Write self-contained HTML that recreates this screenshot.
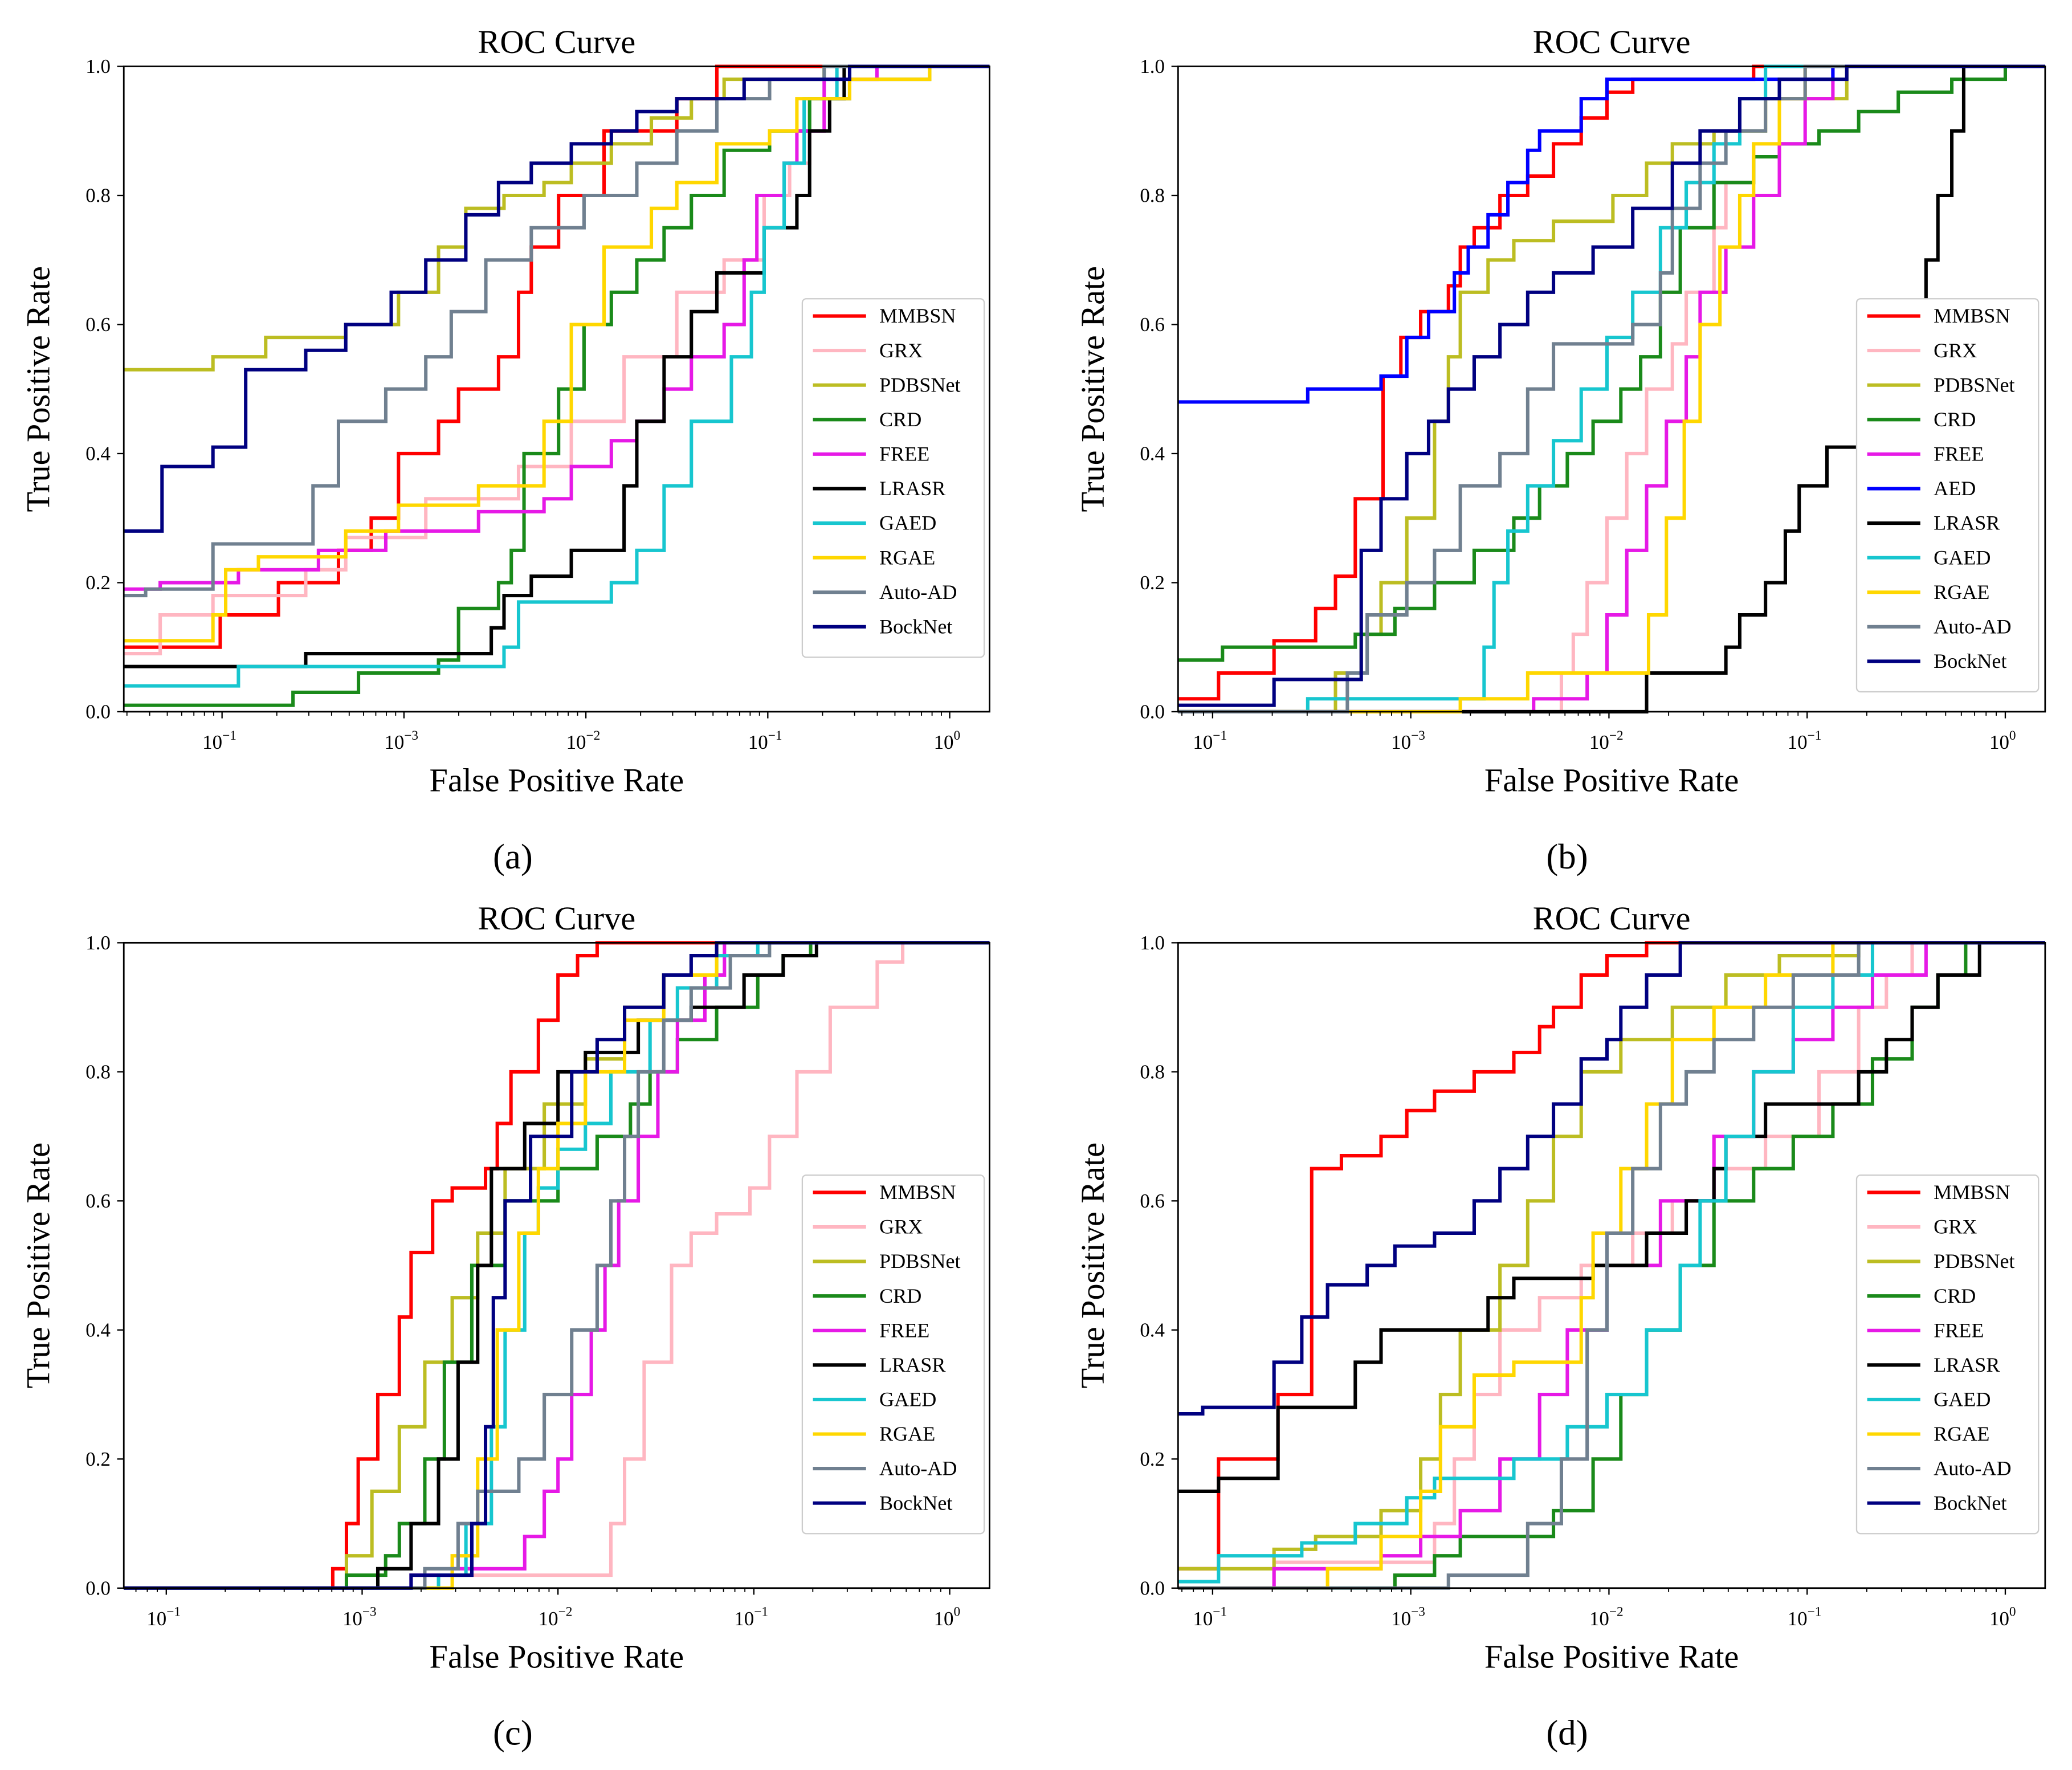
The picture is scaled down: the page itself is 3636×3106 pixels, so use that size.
<!DOCTYPE html>
<html><head><meta charset="utf-8"><style>
html,body{margin:0;padding:0;background:#fff;}
svg{display:block;}
text{font-family:"Liberation Serif",serif;fill:#000;}
</style></head><body>
<svg id="fig" width="3636" height="3106" viewBox="0 0 1560 1333" xmlns="http://www.w3.org/2000/svg"></svg>
<script>
// ---------- data: [log10(FPR), TPR] step points ----------
const names = ["MMBSN","GRX","PDBSNet","CRD","FREE","AED","LRASR","GAED","RGAE","Auto-AD","BockNet"];
const colors = {MMBSN:"#ff0000",GRX:"#ffb6c1",PDBSNet:"#bcbd22",CRD:"#1a8a1a",FREE:"#e619e6",AED:"#0000ff",LRASR:"#000000",GAED:"#17c6cf",RGAE:"#ffd700","Auto-AD":"#708090",BockNet:"#000080"};
const tickLabels = ["\u22121","\u22123","\u22122","\u22121","0"];
const yTicks = [0,0.2,0.4,0.6,0.8,1.0];

const a_MMBSN=[[-9,0.1],[-4.01,0.15],[-3.69,0.2],[-3.36,0.25],[-3.18,0.3],[-3.03,0.4],[-2.81,0.45],[-2.70,0.5],[-2.48,0.55],[-2.37,0.65],[-2.30,0.72],[-2.15,0.8],[-1.90,0.9],[-1.50,0.95],[-1.28,1.0]];
const a_GRX=[[-9,0.09],[-4.34,0.15],[-4.05,0.18],[-3.54,0.22],[-3.32,0.27],[-2.88,0.33],[-2.37,0.38],[-2.08,0.45],[-1.79,0.55],[-1.50,0.65],[-1.24,0.7],[-1.02,0.8],[-0.88,0.85],[-0.77,0.95],[-0.55,1.0]];
const a_PDBSNet=[[-9,0.53],[-4.05,0.55],[-3.76,0.58],[-3.32,0.6],[-3.03,0.65],[-2.81,0.72],[-2.66,0.78],[-2.45,0.8],[-2.23,0.82],[-2.08,0.85],[-1.86,0.88],[-1.64,0.92],[-1.42,0.95],[-1.24,0.98],[-0.69,1.0]];
const a_CRD=[[-9,0.01],[-3.61,0.03],[-3.25,0.06],[-2.81,0.08],[-2.70,0.16],[-2.48,0.2],[-2.41,0.25],[-2.34,0.4],[-2.15,0.5],[-2.01,0.6],[-1.86,0.65],[-1.72,0.7],[-1.57,0.75],[-1.42,0.8],[-1.24,0.87],[-0.99,0.9],[-0.77,0.95],[-0.55,0.98],[-0.11,1.0]];
const a_FREE=[[-9,0.19],[-4.34,0.2],[-3.91,0.22],[-3.47,0.25],[-3.10,0.28],[-2.59,0.31],[-2.23,0.33],[-2.08,0.38],[-1.86,0.42],[-1.72,0.45],[-1.57,0.5],[-1.42,0.55],[-1.24,0.6],[-1.13,0.7],[-1.06,0.8],[-0.91,0.85],[-0.84,0.9],[-0.69,0.98],[-0.4,1.0]];
const a_LRASR=[[-9,0.07],[-3.54,0.09],[-2.52,0.13],[-2.45,0.18],[-2.30,0.21],[-2.08,0.25],[-1.79,0.35],[-1.72,0.45],[-1.57,0.55],[-1.42,0.62],[-1.28,0.68],[-1.02,0.75],[-0.84,0.8],[-0.77,0.9],[-0.66,0.95],[-0.58,1.0]];
const a_GAED=[[-9,0.04],[-3.91,0.07],[-2.45,0.1],[-2.37,0.17],[-1.86,0.2],[-1.72,0.25],[-1.57,0.35],[-1.42,0.45],[-1.20,0.55],[-1.09,0.65],[-1.02,0.75],[-0.91,0.85],[-0.80,0.95],[-0.62,1.0]];
const a_RGAE=[[-9,0.11],[-4.05,0.15],[-3.98,0.22],[-3.80,0.24],[-3.32,0.28],[-3.03,0.32],[-2.59,0.35],[-2.23,0.45],[-2.08,0.6],[-1.90,0.72],[-1.64,0.78],[-1.50,0.82],[-1.28,0.88],[-0.99,0.9],[-0.84,0.95],[-0.55,0.98],[-0.11,1.0]];
const a_AutoAD=[[-9,0.18],[-4.42,0.19],[-4.05,0.26],[-3.50,0.35],[-3.36,0.45],[-3.10,0.5],[-2.88,0.55],[-2.74,0.62],[-2.55,0.7],[-2.30,0.75],[-2.01,0.8],[-1.72,0.85],[-1.50,0.9],[-1.28,0.95],[-0.99,0.98],[-0.69,1.0]];
const a_BockNet=[[-9,0.28],[-4.33,0.38],[-4.05,0.41],[-3.87,0.53],[-3.54,0.56],[-3.32,0.6],[-3.07,0.65],[-2.88,0.7],[-2.66,0.77],[-2.48,0.82],[-2.30,0.85],[-2.08,0.88],[-1.86,0.9],[-1.72,0.93],[-1.50,0.95],[-1.13,0.98],[-0.55,1.0]];

const b_MMBSN=[[-9,0.02],[-3.97,0.06],[-3.69,0.11],[-3.48,0.16],[-3.38,0.21],[-3.28,0.33],[-3.14,0.52],[-3.05,0.58],[-2.95,0.62],[-2.81,0.66],[-2.75,0.72],[-2.68,0.75],[-2.55,0.8],[-2.41,0.83],[-2.28,0.88],[-2.14,0.92],[-2.01,0.96],[-1.88,0.98],[-1.27,1.0]];
const b_GRX=[[-9,0.0],[-2.24,0.06],[-2.18,0.12],[-2.11,0.2],[-2.01,0.3],[-1.91,0.4],[-1.81,0.5],[-1.68,0.57],[-1.61,0.65],[-1.47,0.75],[-1.41,0.82],[-1.27,0.88],[-1.14,0.95],[-1.01,1.0]];
const b_PDBSNet=[[-9,0.0],[-3.38,0.06],[-3.25,0.12],[-3.15,0.2],[-3.02,0.3],[-2.88,0.45],[-2.81,0.55],[-2.75,0.65],[-2.61,0.7],[-2.48,0.73],[-2.28,0.76],[-1.98,0.8],[-1.81,0.85],[-1.68,0.88],[-1.47,0.9],[-1.21,0.95],[-0.80,1.0]];
const b_CRD=[[-9,0.08],[-3.95,0.1],[-3.28,0.12],[-3.08,0.16],[-2.88,0.2],[-2.68,0.25],[-2.48,0.3],[-2.35,0.35],[-2.21,0.4],[-2.08,0.45],[-1.94,0.5],[-1.84,0.55],[-1.74,0.65],[-1.64,0.75],[-1.47,0.82],[-1.27,0.86],[-1.14,0.88],[-0.94,0.9],[-0.74,0.93],[-0.54,0.96],[-0.27,0.98],[0,1.0]];
const b_FREE=[[-9,0.0],[-2.38,0.02],[-2.11,0.06],[-2.01,0.15],[-1.91,0.25],[-1.81,0.35],[-1.71,0.45],[-1.61,0.55],[-1.54,0.65],[-1.41,0.72],[-1.27,0.8],[-1.14,0.88],[-1.01,0.95],[-0.87,1.0]];
const b_AED=[[-9,0.48],[-3.52,0.5],[-3.15,0.52],[-3.02,0.58],[-2.91,0.62],[-2.78,0.68],[-2.71,0.72],[-2.61,0.77],[-2.51,0.82],[-2.41,0.87],[-2.35,0.9],[-2.14,0.95],[-2.01,0.98],[-0.87,1.0]];
const b_LRASR=[[-9,0.0],[-1.81,0.06],[-1.41,0.1],[-1.34,0.15],[-1.21,0.2],[-1.11,0.28],[-1.04,0.35],[-0.90,0.41],[-0.74,0.45],[-0.57,0.55],[-0.47,0.62],[-0.40,0.7],[-0.34,0.8],[-0.27,0.9],[-0.21,1.0]];
const b_GAED=[[-9,0.0],[-3.52,0.02],[-2.63,0.1],[-2.58,0.2],[-2.51,0.28],[-2.41,0.35],[-2.28,0.42],[-2.14,0.5],[-2.01,0.58],[-1.88,0.65],[-1.74,0.75],[-1.61,0.82],[-1.47,0.88],[-1.34,0.95],[-1.21,1.0]];
const b_RGAE=[[-9,0.0],[-2.75,0.02],[-2.41,0.06],[-1.80,0.15],[-1.71,0.3],[-1.62,0.45],[-1.54,0.6],[-1.44,0.72],[-1.34,0.8],[-1.27,0.88],[-1.14,0.95],[-1.01,1.0]];
const b_AutoAD=[[-9,0.0],[-3.32,0.06],[-3.22,0.15],[-3.02,0.2],[-2.88,0.25],[-2.75,0.35],[-2.55,0.4],[-2.41,0.5],[-2.28,0.57],[-1.88,0.6],[-1.74,0.68],[-1.68,0.78],[-1.54,0.85],[-1.41,0.9],[-1.21,0.95],[-1.01,1.0]];
const b_BockNet=[[-9,0.01],[-3.69,0.05],[-3.25,0.25],[-3.15,0.33],[-3.02,0.4],[-2.91,0.45],[-2.81,0.5],[-2.68,0.55],[-2.55,0.6],[-2.41,0.65],[-2.28,0.68],[-2.08,0.72],[-1.88,0.78],[-1.68,0.85],[-1.54,0.9],[-1.34,0.95],[-1.14,0.98],[-0.80,1.0]];

const c_MMBSN=[[-9,0],[-3.15,0.03],[-3.08,0.1],[-3.02,0.2],[-2.92,0.3],[-2.81,0.42],[-2.75,0.52],[-2.64,0.6],[-2.54,0.62],[-2.37,0.65],[-2.31,0.72],[-2.24,0.8],[-2.10,0.88],[-2.00,0.95],[-1.90,0.98],[-1.80,1.0]];
const c_GRX=[[-9,0],[-2.61,0.02],[-1.73,0.1],[-1.66,0.2],[-1.56,0.35],[-1.42,0.5],[-1.32,0.55],[-1.19,0.58],[-1.02,0.62],[-0.92,0.7],[-0.78,0.8],[-0.61,0.9],[-0.37,0.97],[-0.24,1.0]];
const c_PDBSNet=[[-9,0],[-3.08,0.05],[-2.95,0.15],[-2.81,0.25],[-2.68,0.35],[-2.54,0.45],[-2.41,0.55],[-2.27,0.65],[-2.07,0.75],[-1.86,0.82],[-1.66,0.9],[-1.46,0.95],[-1.19,1.0]];
const c_CRD=[[-9,0],[-3.08,0.02],[-2.88,0.05],[-2.81,0.1],[-2.68,0.2],[-2.58,0.35],[-2.44,0.5],[-2.27,0.6],[-2.00,0.65],[-1.80,0.7],[-1.63,0.75],[-1.53,0.8],[-1.39,0.85],[-1.19,0.9],[-0.98,0.95],[-0.85,0.98],[-0.71,1.0]];
const c_FREE=[[-9,0],[-2.75,0.02],[-2.54,0.03],[-2.17,0.08],[-2.07,0.15],[-2.00,0.2],[-1.93,0.3],[-1.83,0.4],[-1.76,0.5],[-1.69,0.6],[-1.59,0.7],[-1.49,0.8],[-1.39,0.88],[-1.25,0.95],[-1.15,1.0]];
const c_LRASR=[[-9,0],[-2.92,0.03],[-2.75,0.1],[-2.61,0.2],[-2.51,0.35],[-2.41,0.5],[-2.34,0.65],[-2.17,0.72],[-2.00,0.8],[-1.86,0.83],[-1.59,0.88],[-1.32,0.9],[-1.05,0.95],[-0.85,0.98],[-0.68,1.0]];
const c_GAED=[[-9,0],[-2.61,0.02],[-2.47,0.1],[-2.34,0.25],[-2.27,0.4],[-2.17,0.55],[-2.10,0.62],[-2.00,0.68],[-1.86,0.72],[-1.73,0.8],[-1.53,0.88],[-1.39,0.93],[-1.19,0.98],[-0.98,1.0]];
const c_RGAE=[[-9,0],[-2.54,0.05],[-2.41,0.2],[-2.31,0.4],[-2.20,0.55],[-2.10,0.65],[-2.00,0.72],[-1.86,0.8],[-1.66,0.88],[-1.46,0.95],[-1.19,1.0]];
const c_AutoAD=[[-9,0],[-2.68,0.03],[-2.51,0.1],[-2.41,0.15],[-2.20,0.2],[-2.07,0.3],[-1.93,0.4],[-1.80,0.5],[-1.73,0.6],[-1.66,0.7],[-1.59,0.8],[-1.46,0.88],[-1.32,0.93],[-1.12,0.98],[-0.92,1.0]];
const c_BockNet=[[-9,0],[-2.75,0.02],[-2.44,0.1],[-2.37,0.25],[-2.33,0.45],[-2.27,0.6],[-2.14,0.7],[-1.93,0.8],[-1.80,0.85],[-1.66,0.9],[-1.46,0.95],[-1.32,0.98],[-1.19,1.0]];

const d_MMBSN=[[-9,0.03],[-3.97,0.2],[-3.67,0.3],[-3.50,0.65],[-3.35,0.67],[-3.15,0.7],[-3.02,0.74],[-2.88,0.77],[-2.68,0.8],[-2.48,0.83],[-2.35,0.87],[-2.28,0.9],[-2.14,0.95],[-2.01,0.98],[-1.81,1.0]];
const d_GRX=[[-9,0.0],[-3.69,0.04],[-2.88,0.1],[-2.78,0.2],[-2.68,0.3],[-2.55,0.4],[-2.35,0.45],[-2.14,0.5],[-1.88,0.55],[-1.68,0.6],[-1.41,0.65],[-1.21,0.7],[-0.94,0.8],[-0.74,0.9],[-0.60,0.95],[-0.47,1.0]];
const d_PDBSNet=[[-9,0.03],[-3.69,0.06],[-3.48,0.08],[-3.15,0.12],[-2.95,0.2],[-2.85,0.3],[-2.75,0.4],[-2.55,0.5],[-2.41,0.6],[-2.28,0.7],[-2.14,0.8],[-1.94,0.85],[-1.68,0.9],[-1.41,0.95],[-1.14,0.98],[-0.74,1.0]];
const d_CRD=[[-9,0],[-3.08,0.02],[-2.88,0.05],[-2.75,0.08],[-2.28,0.12],[-2.08,0.2],[-1.94,0.3],[-1.81,0.4],[-1.64,0.5],[-1.47,0.6],[-1.27,0.65],[-1.07,0.7],[-0.87,0.75],[-0.67,0.82],[-0.47,0.9],[-0.34,0.95],[-0.20,1.0]];
const d_FREE=[[-9,0],[-3.69,0.03],[-3.15,0.05],[-2.95,0.08],[-2.75,0.12],[-2.55,0.2],[-2.35,0.3],[-2.21,0.4],[-2.01,0.5],[-1.74,0.6],[-1.47,0.7],[-1.27,0.8],[-1.07,0.85],[-0.87,0.9],[-0.67,0.95],[-0.40,1.0]];
const d_LRASR=[[-9,0.15],[-3.97,0.17],[-3.67,0.28],[-3.28,0.35],[-3.15,0.4],[-2.61,0.45],[-2.48,0.48],[-2.08,0.5],[-1.81,0.55],[-1.61,0.6],[-1.47,0.65],[-1.41,0.7],[-1.21,0.75],[-0.74,0.8],[-0.60,0.85],[-0.47,0.9],[-0.34,0.95],[-0.13,1.0]];
const d_GAED=[[-9,0.01],[-3.97,0.05],[-3.55,0.07],[-3.28,0.1],[-3.02,0.14],[-2.88,0.17],[-2.48,0.2],[-2.21,0.25],[-2.01,0.3],[-1.81,0.4],[-1.64,0.5],[-1.54,0.6],[-1.41,0.7],[-1.27,0.8],[-1.07,0.9],[-0.87,0.95],[-0.67,1.0]];
const d_RGAE=[[-9,0],[-3.42,0.03],[-3.15,0.08],[-2.95,0.15],[-2.85,0.25],[-2.68,0.33],[-2.48,0.35],[-2.14,0.45],[-2.08,0.55],[-1.94,0.65],[-1.81,0.75],[-1.68,0.85],[-1.47,0.9],[-1.21,0.95],[-0.87,1.0]];
const d_AutoAD=[[-9,0],[-2.81,0.02],[-2.41,0.1],[-2.24,0.2],[-2.11,0.4],[-2.01,0.55],[-1.88,0.65],[-1.74,0.75],[-1.61,0.8],[-1.47,0.85],[-1.27,0.9],[-1.07,0.95],[-0.74,1.0]];
const d_BockNet=[[-9,0.27],[-4.05,0.28],[-3.69,0.35],[-3.55,0.42],[-3.42,0.47],[-3.22,0.5],[-3.08,0.53],[-2.88,0.55],[-2.68,0.6],[-2.55,0.65],[-2.41,0.7],[-2.28,0.75],[-2.14,0.82],[-2.01,0.85],[-1.94,0.9],[-1.81,0.95],[-1.64,1.0]];

const panelA = {MMBSN:a_MMBSN,GRX:a_GRX,PDBSNet:a_PDBSNet,CRD:a_CRD,FREE:a_FREE,LRASR:a_LRASR,GAED:a_GAED,RGAE:a_RGAE,"Auto-AD":a_AutoAD,BockNet:a_BockNet};
const panelB = {MMBSN:b_MMBSN,GRX:b_GRX,PDBSNet:b_PDBSNet,CRD:b_CRD,FREE:b_FREE,AED:b_AED,LRASR:b_LRASR,GAED:b_GAED,RGAE:b_RGAE,"Auto-AD":b_AutoAD,BockNet:b_BockNet};
const panelC = {MMBSN:c_MMBSN,GRX:c_GRX,PDBSNet:c_PDBSNet,CRD:c_CRD,FREE:c_FREE,LRASR:c_LRASR,GAED:c_GAED,RGAE:c_RGAE,"Auto-AD":c_AutoAD,BockNet:c_BockNet};
const panelD = {MMBSN:d_MMBSN,GRX:d_GRX,PDBSNet:d_PDBSNet,CRD:d_CRD,FREE:d_FREE,LRASR:d_LRASR,GAED:d_GAED,RGAE:d_RGAE,"Auto-AD":d_AutoAD,BockNet:d_BockNet};

const NS="http://www.w3.org/2000/svg";
const svg=document.getElementById('fig');
function mk(tag,attrs,parent){const e=document.createElementNS(NS,tag);for(const k in attrs)e.setAttribute(k,attrs[k]);(parent||svg).appendChild(e);return e;}

function drawPanel(id,cfg,data,caption){
  const g=mk('g',{});
  
  
  const xs=l=>cfg.px0+l*cfg.dec;
  const ys=t=>cfg.y1-t*(cfg.y1-cfg.y0);
  const lmin=(cfg.x0-cfg.px0)/cfg.dec, lmax=(cfg.x1-cfg.px0)/cfg.dec;
  const clip='clip-'+id;
  const cp=mk('clipPath',{id:clip},g);mk('rect',{x:cfg.x0,y:cfg.y0-3,width:cfg.x1-cfg.x0,height:cfg.y1-cfg.y0+6},cp);
  // series
  for(const nm of names){
    if(!data[nm])continue;
    const pts=data[nm];
    let d='';
    for(let i=0;i<pts.length;i++){
      const x=xs(Math.max(pts[i][0],lmin-0.1)), y=ys(pts[i][1]);
      if(i===0)d+='M'+x+' '+y;
      else{d+=' L'+x+' '+ys(pts[i-1][1])+' L'+x+' '+y;}
    }
    d+=' L'+xs(lmax+0.1)+' '+ys(pts[pts.length-1][1]);
    const p=mk('path',{d:d,fill:'none',stroke:colors[nm],'stroke-width':2.6,'clip-path':'url(#'+clip+')'},g);
    
    
  }
  // frame
  const fr=mk('rect',{x:cfg.x0,y:cfg.y0,width:cfg.x1-cfg.x0,height:cfg.y1-cfg.y0,fill:'none',stroke:'#000','stroke-width':1.2},g);
  
  
  // x ticks
  for(let k=-4;k<=0;k++){
    const x=xs(k);
    mk('line',{x1:x,y1:cfg.y1,x2:x,y2:cfg.y1+5,stroke:'#000','stroke-width':1},g);
    const t=mk('text',{x:x-2,y:cfg.y1+28,'font-size':15,'text-anchor':'middle'},g);
    
    
    t.textContent='10';
    const s=mk('tspan',{'font-size':10,dy:-7},t);s.textContent=tickLabels[k+4];
    for(let m=2;m<10;m++){const lx=k-1+Math.log10(m);if(lx<lmin)continue;const mx=xs(lx);mk('line',{x1:mx,y1:cfg.y1,x2:mx,y2:cfg.y1+3,stroke:'#000','stroke-width':0.8},g);}
  }
  for(let m=2;m<10;m++){const lx=Math.log10(m);if(lx>lmax)continue;const mx=xs(lx);mk('line',{x1:mx,y1:cfg.y1,x2:mx,y2:cfg.y1+3,stroke:'#000','stroke-width':0.8},g);}
  // y ticks
  for(const v of yTicks){
    const y=ys(v);
    mk('line',{x1:cfg.x0-5,y1:y,x2:cfg.x0,y2:y,stroke:'#000','stroke-width':1},g);
    const t=mk('text',{x:cfg.x0-10,y:y+5,'font-size':15,'text-anchor':'end'},g);
    
    
    t.textContent=v.toFixed(1);
  }
  const cx=(cfg.x0+cfg.x1)/2;
  const ti=mk('text',{x:cx,y:cfg.y0-10,'font-size':25,'text-anchor':'middle'},g);
  
  
  ti.textContent='ROC Curve';
  const xl=mk('text',{x:cx,y:cfg.y1+60,'font-size':25,'text-anchor':'middle'},g);
  
  
  xl.textContent='False Positive Rate';
  const yx=cfg.x0-56, yy=(cfg.y0+cfg.y1)/2;
  const yl=mk('text',{x:yx,y:yy,'font-size':25,'text-anchor':'middle',transform:'rotate(-90 '+yx+' '+yy+')'},g);
  
  
  yl.textContent='True Positive Rate';
  const cap=mk('text',{x:cfg.capX,y:cfg.y1+118,'font-size':27,'text-anchor':'middle'},g);
  
  
  cap.textContent=caption;
  // legend
  const keys=names.filter(n=>data[n]);
  const lg=mk('g',{},g);
  
  
  mk('rect',{x:cfg.lx,y:cfg.ly,width:137,height:keys.length*26+10,rx:3,fill:'#fff',stroke:'#ccc','stroke-width':1},lg);
  keys.forEach((n,i)=>{
    const y=cfg.ly+13+i*26;
    const e=mk('g',{},lg);
    
    
    mk('line',{x1:cfg.lx+8,y1:y,x2:cfg.lx+48,y2:y,stroke:colors[n],'stroke-width':2.6},e);
    const t=mk('text',{x:cfg.lx+58,y:y+5,'font-size':15.5},e);t.textContent=n;
  });
}
drawPanel('a',{x0:93,x1:745,y0:50,y1:536,px0:715,dec:137,lx:604,ly:225,capX:386},panelA,'(a)');
drawPanel('b',{x0:887,x1:1540,y0:50,y1:536,px0:1510,dec:149.25,lx:1398,ly:225,capX:1180},panelB,'(b)');
drawPanel('c',{x0:93,x1:745,y0:710,y1:1196,px0:715,dec:147.5,lx:604,ly:885,capX:386},panelC,'(c)');
drawPanel('d',{x0:887,x1:1540,y0:710,y1:1196,px0:1510,dec:149.25,lx:1398,ly:885,capX:1180},panelD,'(d)');
</script>
</body></html>
